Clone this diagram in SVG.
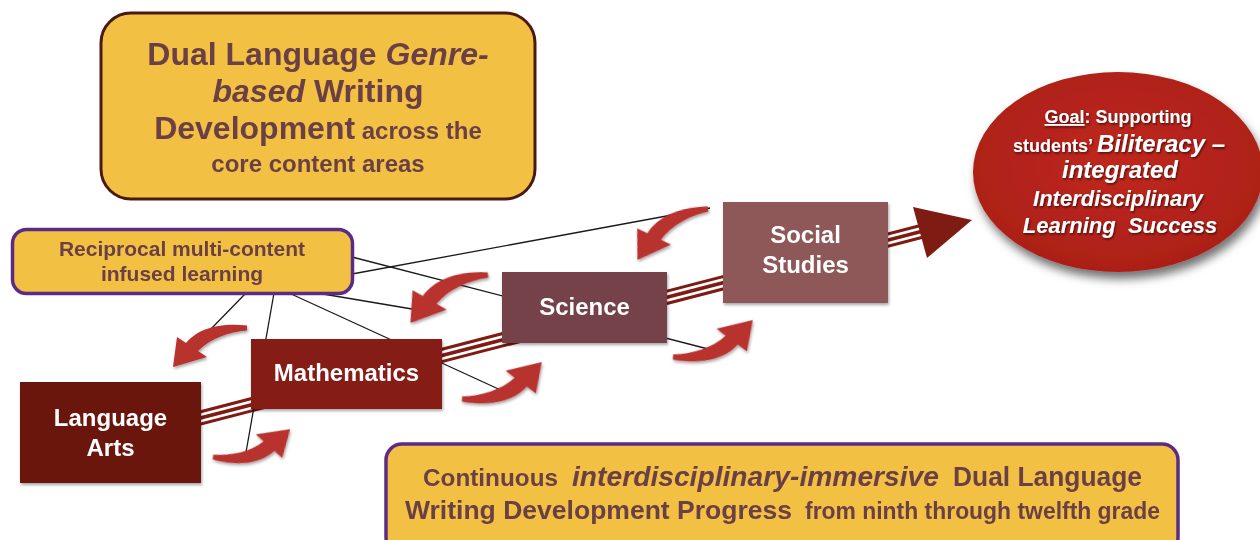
<svg xmlns="http://www.w3.org/2000/svg" width="1260" height="540" viewBox="0 0 1260 540">
<defs>
<style>
text { font-family: "Liberation Sans", Arial, sans-serif; font-weight: bold; }
.dk { fill: #6b3f46; }
.wt { fill: #ffffff; }
.it { font-style: italic; }
.yl { fill: #f2c042; }
.thin { stroke: #1a1a1a; stroke-width: 1.3; fill: none; }
.ca { fill: #b8312f; }
.s24 { font-size: 24px; }
</style>
<filter id="sh" x="-20%" y="-20%" width="150%" height="160%"><feDropShadow dx="1" dy="2" stdDeviation="1.5" flood-color="#000" flood-opacity="0.35"/></filter>
<filter id="esh" x="-15%" y="-15%" width="135%" height="140%"><feDropShadow dx="3" dy="7" stdDeviation="5" flood-color="#000" flood-opacity="0.55"/></filter>
<filter id="tsh" x="-10%" y="-20%" width="120%" height="150%"><feDropShadow dx="1" dy="1.5" stdDeviation="1" flood-color="#000" flood-opacity="0.6"/></filter>
<radialGradient id="eg" cx="50%" cy="45%" r="55%"><stop offset="0" stop-color="#c0281f"/><stop offset="1" stop-color="#ac1f18"/></radialGradient>
<path id="curv" d="M0,-2.5 C-20,-5 -46,-3 -61,15 L-70,9 L-74,39 L-40,29 L-49,23 C-36,10 -18,4 0,2.5 Z"/>
</defs>

<rect width="1260" height="540" fill="#ffffff"/>

<g id="connectors">
  <g id="progress-arrow">
    <line x1="150" y1="431" x2="925" y2="230.5" stroke="#7e1b12" stroke-width="15"/>
    <line x1="150" y1="431" x2="925" y2="230.5" stroke="#ffffff" stroke-width="9"/>
    <line x1="150" y1="431" x2="925" y2="230.5" stroke="#7e1b12" stroke-width="3.5"/>
    <polygon points="913,207 972,220 927,258" fill="#7e1b12"/>
  </g>
  <g id="links">
    <line class="thin" x1="352" y1="274" x2="710" y2="208"/>
    <line class="thin" x1="352" y1="257" x2="712" y2="350"/>
    <line class="thin" x1="317" y1="293" x2="412" y2="309"/>
    <line class="thin" x1="289" y1="293" x2="505" y2="392"/>
    <line class="thin" x1="274" y1="293" x2="245" y2="458"/>
    <line class="thin" x1="246" y1="293" x2="207" y2="333"/>
  </g>
  <g id="cycle-arrows" filter="url(#sh)">
    <use href="#curv" class="ca" transform="translate(247,328)"/>
    <use href="#curv" class="ca" transform="translate(488,275) rotate(-4) scale(1.09)"/>
    <use href="#curv" class="ca" transform="translate(708,209) rotate(-8) scale(1.04)"/>
    <use href="#curv" class="ca" transform="translate(213,457) rotate(188) scale(0.98)"/>
    <use href="#curv" class="ca" transform="translate(462,399) rotate(183) scale(1.05)"/>
    <use href="#curv" class="ca" transform="translate(673,357) rotate(183) scale(1.05)"/>
  </g>
</g>

<g id="title">
  <rect x="101" y="13" width="434" height="186" rx="30" class="yl" stroke="#4a1a10" stroke-width="3"/>
  <text x="318" y="65" text-anchor="middle" class="dk" font-size="32">Dual Language <tspan class="it">Genre-</tspan></text>
  <text x="318" y="102" text-anchor="middle" class="dk" font-size="32"><tspan class="it">based</tspan> Writing</text>
  <text x="318" y="139" text-anchor="middle" class="dk" font-size="32">Development<tspan font-size="24"> across the</tspan></text>
  <text x="318" y="172" text-anchor="middle" class="dk" font-size="24">core content areas</text>
</g>

<g id="reciprocal">
  <rect x="12.5" y="229.5" width="340" height="64" rx="14" class="yl" stroke="#5b2c87" stroke-width="3.5"/>
  <text x="182" y="256" text-anchor="middle" class="dk" font-size="21">Reciprocal multi-content</text>
  <text x="182" y="281" text-anchor="middle" class="dk" font-size="21">infused learning</text>
</g>

<g id="language-arts">
  <rect x="20" y="382" width="181" height="101" fill="#6b1510" filter="url(#sh)"/>
  <text x="110.5" y="426" text-anchor="middle" class="wt s24">Language</text>
  <text x="110.5" y="456" text-anchor="middle" class="wt s24">Arts</text>
</g>

<g id="mathematics">
  <rect x="251" y="339" width="191" height="70" fill="#861a14" filter="url(#sh)"/>
  <text x="346.5" y="381" text-anchor="middle" class="wt s24">Mathematics</text>
</g>

<g id="science">
  <rect x="502" y="272" width="165" height="71" fill="#764349" filter="url(#sh)"/>
  <text x="584.5" y="315" text-anchor="middle" class="wt s24">Science</text>
</g>

<g id="social-studies">
  <rect x="723" y="202" width="165" height="101" fill="#8f5859" filter="url(#sh)"/>
  <text x="805.5" y="243" text-anchor="middle" class="wt s24">Social</text>
  <text x="805.5" y="273" text-anchor="middle" class="wt s24">Studies</text>
</g>

<g id="goal">
  <ellipse cx="1118" cy="172" rx="145" ry="100" fill="url(#eg)" filter="url(#esh)"/>
  <g filter="url(#tsh)" class="wt">
    <text x="1118" y="123" text-anchor="middle" class="wt" font-size="18"><tspan style="text-decoration:underline">Goal</tspan>: Supporting</text>
    <text x="1119" y="152" text-anchor="middle" class="wt" font-size="18">students’ <tspan class="it" font-size="24">Biliteracy –</tspan></text>
    <text x="1120" y="178" text-anchor="middle" class="wt it" font-size="24">integrated</text>
    <text x="1118" y="206" text-anchor="middle" class="wt it" font-size="22">Interdisciplinary</text>
    <text x="1120" y="233" text-anchor="middle" class="wt it" font-size="22" style="white-space:pre">Learning  Success</text>
  </g>
</g>

<g id="progress">
  <rect x="386" y="444" width="792" height="110" rx="16" class="yl" stroke="#5b2c87" stroke-width="3.5"/>
  <text x="423" y="486" class="dk" font-size="24" textLength="135" lengthAdjust="spacingAndGlyphs">Continuous</text>
  <text x="572" y="486" class="dk it" font-size="28" textLength="367" lengthAdjust="spacingAndGlyphs">interdisciplinary-immersive</text>
  <text x="953" y="486" class="dk" font-size="27" textLength="189" lengthAdjust="spacingAndGlyphs">Dual Language</text>
  <text x="405" y="519" class="dk" font-size="26.5" textLength="387" lengthAdjust="spacingAndGlyphs">Writing Development Progress</text>
  <text x="805" y="519" class="dk" font-size="23.2" textLength="355" lengthAdjust="spacingAndGlyphs">from ninth through twelfth grade</text>
</g>
</svg>
